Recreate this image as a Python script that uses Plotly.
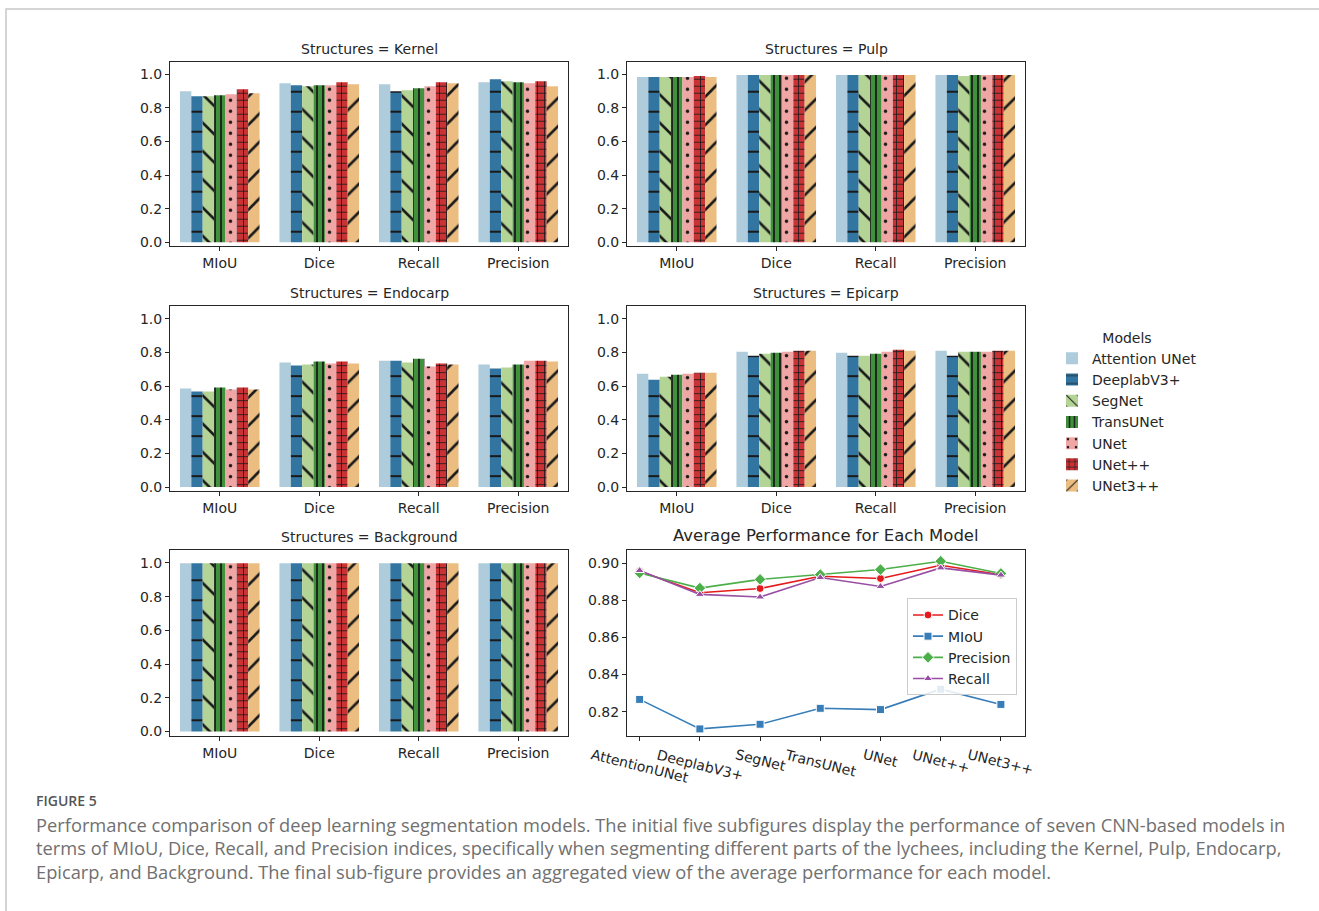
import plotly.graph_objects as go

# ---------------- data ----------------
models = ["Attention UNet", "DeeplabV3+", "SegNet", "TransUNet", "UNet", "UNet++", "UNet3++"]
metrics = ["MIoU", "Dice", "Recall", "Precision"]
structures = ["Kernel", "Pulp", "Endocarp", "Epicarp", "Background"]

# rows = models (same order as `models`), columns = MIoU, Dice, Recall, Precision
kernel = [
    [0.899, 0.947, 0.941, 0.953],
    [0.870, 0.935, 0.899, 0.970],
    [0.870, 0.929, 0.905, 0.959],
    [0.876, 0.935, 0.917, 0.953],
    [0.882, 0.935, 0.929, 0.947],
    [0.911, 0.953, 0.953, 0.959],
    [0.888, 0.941, 0.947, 0.929],
]
pulp = [
    [0.984, 0.996, 0.996, 0.996],
    [0.984, 0.996, 0.996, 0.996],
    [0.984, 0.996, 0.996, 0.990],
    [0.984, 0.996, 0.996, 0.996],
    [0.984, 0.996, 0.996, 0.996],
    [0.990, 0.996, 0.996, 0.996],
    [0.984, 0.996, 0.996, 0.996],
]
endocarp = [
    [0.586, 0.740, 0.751, 0.728],
    [0.568, 0.722, 0.751, 0.704],
    [0.568, 0.728, 0.740, 0.710],
    [0.592, 0.746, 0.763, 0.728],
    [0.580, 0.734, 0.716, 0.751],
    [0.592, 0.746, 0.734, 0.751],
    [0.580, 0.734, 0.728, 0.746],
]
epicarp = [
    [0.674, 0.804, 0.798, 0.810],
    [0.638, 0.781, 0.781, 0.781],
    [0.656, 0.792, 0.781, 0.804],
    [0.668, 0.798, 0.792, 0.804],
    [0.674, 0.804, 0.804, 0.804],
    [0.680, 0.810, 0.816, 0.810],
    [0.680, 0.810, 0.810, 0.810],
]
background = [
    [0.998, 0.998, 0.998, 0.998],
    [0.998, 0.998, 0.998, 0.998],
    [0.998, 0.998, 0.998, 0.998],
    [0.998, 0.998, 0.998, 0.998],
    [0.998, 0.998, 0.998, 0.998],
    [0.998, 0.998, 0.998, 0.998],
    [0.998, 0.998, 0.998, 0.998],
]

# average performance per model
avg_models = ["AttentionUNet", "DeeplabV3+", "SegNet", "TransUNet", "UNet", "UNet++", "UNet3++"]
avg_dice = [0.8957, 0.8841, 0.8864, 0.8930, 0.8918, 0.8989, 0.8938]
avg_miou = [0.8266, 0.8107, 0.8132, 0.8218, 0.8211, 0.8321, 0.8239]
avg_precision = [0.8948, 0.8866, 0.8913, 0.8939, 0.8966, 0.9011, 0.8945]
avg_recall = [0.8961, 0.8832, 0.8818, 0.8923, 0.8875, 0.8975, 0.8936]

bar_ticks = [0.0, 0.2, 0.4, 0.6, 0.8, 1.0]
avg_ticks = [0.82, 0.84, 0.86, 0.88, 0.90]

caption_head = "FIGURE 5"
caption_lines = [
    "Performance comparison of deep learning segmentation models. The initial five subfigures display the performance of seven CNN-based models in",
    "terms of MIoU, Dice, Recall, and Precision indices, specifically when segmenting different parts of the lychees, including the Kernel, Pulp, Endocarp,",
    "Epicarp, and Background. The final sub-figure provides an aggregated view of the average performance for each model.",
]

# ---------------- styling ----------------
W, H = 1319, 911
FONT = "DejaVu Sans"
TXT = "#262626"

bar_colors = ["#aeccdb", "#3275a1", "#b3d495", "#40913b", "#efa6a5", "#ca3335", "#ebbd81"]
patterns = [
    dict(shape=""),
    dict(shape="-", size=20, solidity=0.1),
    dict(shape="\\", size=20, solidity=0.13),
    dict(shape="|", size=6, solidity=0.3),
    dict(shape=".", size=11, solidity=0.08),
    dict(shape="+", size=7, solidity=0.22),
    dict(shape="/", size=20, solidity=0.13),
]
line_colors = ["#e41a1c", "#377eb8", "#4daf4a", "#984ea3"]


def fx(x):
    return x / W


def fy(y):
    return 1 - y / H


col_dom = [(170, 568), (627, 1025)]
row_dom = [(62, 247.5), (307.5, 493.5), (552.7, 739)]

fig = go.Figure()

struct_data = [kernel, pulp, endocarp, epicarp, background]
for s, data in enumerate(struct_data):
    ax = "" if s == 0 else str(s + 1)
    for m, name in enumerate(models):
        pat = dict(patterns[m])
        if pat["shape"]:
            pat.update(fgcolor="#1a1a1a", fillmode="overlay", fgopacity=1)
        fig.add_trace(go.Bar(
            x=metrics, y=data[m], name=name,
            xaxis="x" + ax, yaxis="y" + ax,
            marker=dict(color=bar_colors[m], line=dict(width=0), pattern=pat),
            offsetgroup=str(m), showlegend=(s == 0), legend="legend",
        ))

line_series = [("Dice", avg_dice, "circle"), ("MIoU", avg_miou, "square"),
               ("Precision", avg_precision, "diamond"), ("Recall", avg_recall, "triangle-up")]
for i, (nm, vals, sym) in enumerate(line_series):
    fig.add_trace(go.Scatter(
        x=avg_models, y=vals, name=nm, mode="lines+markers",
        xaxis="x6", yaxis="y6", legend="legend2",
        line=dict(color=line_colors[i], width=1.6),
        marker=dict(symbol=sym, size=8 if sym != "diamond" else 9, color=line_colors[i],
                    line=dict(color="white", width=1)),
    ))

axis_common = dict(showline=True, mirror=True, linecolor=TXT, linewidth=1.1,
                   ticks="outside", ticklen=4, tickwidth=1, tickcolor=TXT,
                   showgrid=False, zeroline=False,
                   tickfont=dict(family=FONT, size=14, color=TXT))

layout = dict(
    width=W, height=H, autosize=False,
    margin=dict(l=0, r=0, t=0, b=0),
    paper_bgcolor="white", plot_bgcolor="white",
    barmode="group", bargap=0.2, bargroupgap=0,
    font=dict(family=FONT, size=14, color=TXT),
)

annotations = []
for i in range(6):
    r, c = divmod(i, 2)
    ax = "" if i == 0 else str(i + 1)
    xd = [fx(col_dom[c][0]), fx(col_dom[c][1])]
    yd = [fy(row_dom[r][1]), fy(row_dom[r][0])]
    if i < 5:
        layout["xaxis" + ax] = dict(axis_common, domain=xd, anchor="y" + ax,
                                    type="category", range=[-0.5, 3.5])
        layout["yaxis" + ax] = dict(axis_common, domain=yd, anchor="x" + ax,
                                    range=[-0.025, 1.075], tickvals=bar_ticks,
                                    tickformat=".1f")
        annotations.append(dict(text="Structures = " + structures[i], xref="paper", yref="paper",
                                x=(xd[0] + xd[1]) / 2, y=fy(row_dom[r][0] - 13),
                                xanchor="center", yanchor="middle", showarrow=False,
                                font=dict(family=FONT, size=14, color=TXT)))
    else:
        layout["xaxis6"] = dict(axis_common, domain=xd, anchor="y6", type="category",
                                range=[-0.21, 6.4], showticklabels=False)
        layout["yaxis6"] = dict(axis_common, domain=yd, anchor="x6",
                                range=[0.807, 0.907], tickvals=avg_ticks, tickformat=".2f")
        annotations.append(dict(text="Average Performance for Each Model", xref="paper", yref="paper",
                                x=(xd[0] + xd[1]) / 2, y=fy(538),
                                xanchor="center", yanchor="middle", showarrow=False,
                                font=dict(family=FONT, size=16.5, color=TXT)))

# rotated category labels on the average-performance axis
for nm in avg_models:
    annotations.append(dict(text=nm, xref="x6", yref="paper", x=nm, y=fy(747),
                            xanchor="center", yanchor="top", textangle=14, showarrow=False,
                            font=dict(family=FONT, size=14, color=TXT)))

# caption
annotations.append(dict(text=caption_head, xref="paper", yref="paper", x=fx(34), y=fy(804),
                        xanchor="left", yanchor="middle", showarrow=False,
                        font=dict(family="Open Sans", size=14, color="#555555", weight=600)))
for k, line in enumerate(caption_lines):
    annotations.append(dict(text=line, xref="paper", yref="paper", x=fx(34), y=fy(828 + k * 23.5),
                            xanchor="left", yanchor="middle", showarrow=False,
                            font=dict(family="Open Sans", size=18.3, color="#707070")))

layout["annotations"] = annotations

layout["legend"] = dict(
    title=dict(text="Models", side="top center", font=dict(family=FONT, size=14, color=TXT)),
    x=fx(1052), xanchor="left", y=fy(326), yanchor="top",
    bgcolor="rgba(0,0,0,0)", borderwidth=0, tracegroupgap=0,
    font=dict(family=FONT, size=14, color=TXT),
)
layout["legend2"] = dict(
    x=fx(1017), xanchor="right", y=fy(601), yanchor="top",
    bgcolor="rgba(255,255,255,0.85)", bordercolor="#cccccc", borderwidth=1,
    font=dict(family=FONT, size=14, color=TXT),
)

layout["shapes"] = [dict(type="rect", xref="paper", yref="paper",
                         x0=fx(6), x1=fx(W + 20), y0=fy(9), y1=fy(H + 20),
                         line=dict(color="#c8c8c8", width=1.5), fillcolor="rgba(0,0,0,0)")]

fig.update_layout(**layout)

fig.write_html("out.html", config={"displayModeBar": False},
               post_script="document.body.style.margin='0';document.body.style.overflow='hidden';")
